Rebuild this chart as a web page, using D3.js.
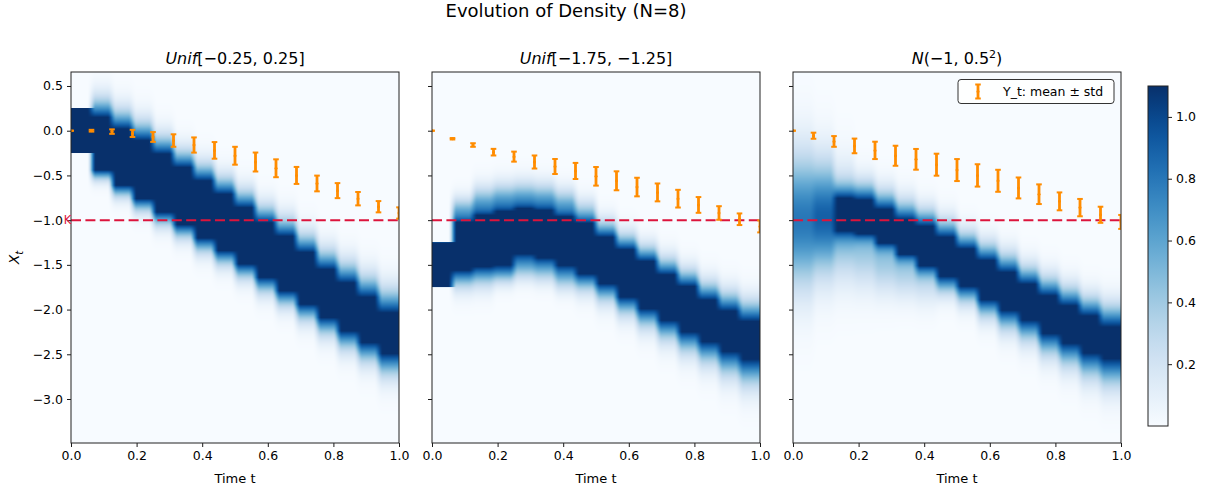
<!DOCTYPE html>
<html><head><meta charset="utf-8">
<script src="https://cdn.jsdelivr.net/npm/d3@7"></script>
<style>
body{margin:0;background:#fff;}
text{font-family:"DejaVu Sans",sans-serif;fill:#000;}
</style>
</head><body>
<svg id="chart" width="1211" height="489"></svg>
<script>
// ---------------- data ----------------
const suptitle = "Evolution of Density (N=8)";
const timePoints = [0, 0.0625, 0.125, 0.1875, 0.25, 0.3125, 0.375, 0.4375, 0.5, 0.5625, 0.625, 0.6875, 0.75, 0.8125, 0.875, 0.9375, 1];
const xTicks = [0, 0.2, 0.4, 0.6, 0.8, 1.0];
const yTicks = [0.5, 0, -0.5, -1, -1.5, -2, -2.5, -3];
const cbTicks = [0.2, 0.4, 0.6, 0.8, 1.0];
const K = -1;

// error bars: Y_t mean and std per time point
const meanA = [0, 0.0, -0.01, -0.03, -0.07, -0.11, -0.16, -0.22, -0.28, -0.35, -0.42, -0.50, -0.59, -0.67, -0.76, -0.85, -0.92];
const stdA  = [0, 0.01, 0.025, 0.04, 0.055, 0.07, 0.085, 0.093, 0.10, 0.106, 0.10, 0.095, 0.088, 0.084, 0.075, 0.063, 0.063];
const meanB = [0, -0.09, -0.16, -0.24, -0.29, -0.35, -0.40, -0.45, -0.51, -0.56, -0.63, -0.69, -0.76, -0.83, -0.92, -0.99, -1.07];
const stdB  = [0, 0.008, 0.02, 0.037, 0.056, 0.073, 0.084, 0.09, 0.104, 0.106, 0.104, 0.10, 0.099, 0.088, 0.076, 0.065, 0.067];
const meanC = [0, -0.056, -0.12, -0.17, -0.22, -0.28, -0.32, -0.38, -0.44, -0.50, -0.56, -0.64, -0.71, -0.79, -0.86, -0.94, -1.02];
const stdC  = [0, 0.034, 0.06, 0.082, 0.097, 0.112, 0.116, 0.123, 0.123, 0.125, 0.123, 0.117, 0.11, 0.10, 0.097, 0.09, 0.078];

// density columns (16 time bins): dense band top/bottom, edge softness, level, plus halos
const bandHiA = [0.25, 0.15, 0.02, -0.11, -0.26, -0.41, -0.56, -0.71, -0.86, -1.03, -1.18, -1.36, -1.55, -1.70, -1.86, -2.03];
const bandLoA = [-0.25, -0.44, -0.61, -0.76, -0.91, -1.05, -1.20, -1.34, -1.49, -1.64, -1.79, -1.94, -2.09, -2.24, -2.37, -2.50];
const softHiA = [0.002, 0.2, 0.2, 0.2, 0.19, 0.18, 0.18, 0.18, 0.18, 0.18, 0.19, 0.19, 0.2, 0.21, 0.22, 0.24];
const softLoA = [0.002, 0.1, 0.12, 0.13, 0.14, 0.14, 0.15, 0.15, 0.15, 0.16, 0.16, 0.17, 0.18, 0.19, 0.2, 0.22];
const levelA  = [2.0, 2.2, 2.2, 2.2, 2.2, 2.2, 2.2, 2.2, 2.2, 2.2, 2.2, 2.2, 2.2, 2.2, 2.2, 2.2];

const bandHiB = [-1.25, -1.07, -1.01, -0.97, -0.94, -0.96, -1.02, -1.09, -1.19, -1.33, -1.46, -1.61, -1.74, -1.89, -2.01, -2.12];
const bandLoB = [-1.75, -1.56, -1.52, -1.43, -1.34, -1.39, -1.48, -1.60, -1.71, -1.86, -1.99, -2.12, -2.25, -2.36, -2.47, -2.56];
const softHiB = [0.002, 0.07, 0.08, 0.08, 0.08, 0.08, 0.08, 0.1, 0.16, 0.16, 0.16, 0.17, 0.17, 0.18, 0.19, 0.2];
const softLoB = [0.002, 0.17, 0.18, 0.14, 0.12, 0.12, 0.14, 0.17, 0.18, 0.18, 0.19, 0.2, 0.21, 0.22, 0.24, 0.26];
const levelB  = [2.0, 2.2, 2.2, 2.2, 2.2, 2.2, 2.2, 2.2, 2.2, 2.2, 2.2, 2.2, 2.2, 2.2, 2.2, 2.2];
const haloUpC_B  = [0, -0.95, -0.88, -0.84, -0.82, -0.84, -0.89, -0.98, 0, 0, 0, 0, 0, 0, 0, 0];
const haloUpSd_B = [1, 0.13, 0.16, 0.16, 0.16, 0.16, 0.15, 0.14, 1, 1, 1, 1, 1, 1, 1, 1];
const haloUpPk_B = [0, 0.65, 0.7, 0.72, 0.72, 0.72, 0.66, 0.5, 0, 0, 0, 0, 0, 0, 0, 0];
const haloLoC_B  = [0, 0, 0, -1.54, -1.50, -1.54, -1.64, 0, 0, 0, 0, 0, 0, 0, 0, 0];
const haloLoSd_B = [1, 1, 1, 0.12, 0.12, 0.12, 0.12, 1, 1, 1, 1, 1, 1, 1, 1, 1];
const haloLoPk_B = [0, 0, 0, 0.45, 0.45, 0.38, 0.3, 0, 0, 0, 0, 0, 0, 0, 0, 0];

const bandHiC = [0, 0, -0.80, -0.80, -0.89, -1.0, -1.07, -1.19, -1.32, -1.45, -1.58, -1.71, -1.84, -1.95, -2.06, -2.17];
const bandLoC = [0, 0, -1.06, -1.11, -1.22, -1.35, -1.48, -1.63, -1.74, -1.89, -2.01, -2.12, -2.27, -2.38, -2.49, -2.56];
const softHiC = [1, 1, 0.16, 0.2, 0.2, 0.2, 0.18, 0.18, 0.17, 0.18, 0.19, 0.18, 0.19, 0.19, 0.19, 0.21];
const softLoC = [1, 1, 0.12, 0.1, 0.1, 0.1, 0.12, 0.17, 0.17, 0.18, 0.2, 0.21, 0.22, 0.23, 0.25, 0.27];
const levelC  = [0, 0, 1.7, 2.1, 2.2, 2.2, 2.2, 2.2, 2.2, 2.2, 2.2, 2.2, 2.2, 2.2, 2.2, 2.2];
const broadC_C  = [-1.0, -0.97, -1.05, -1.25, -1.42, -1.53, -1.64, 0, 0, 0, 0, 0, 0, 0, 0, 0];
const broadSd_C = [0.5, 0.42, 0.38, 0.32, 0.26, 0.22, 0.2, 1, 1, 1, 1, 1, 1, 1, 1, 1];
const broadPk_C = [0.8, 0.9, 0.6, 0.45, 0.42, 0.38, 0.28, 0, 0, 0, 0, 0, 0, 0, 0, 0];

const panels = [
  {title: ["Unif", "[−0.25, 0.25]", ""], mean: meanA, std: stdA,
   hi: bandHiA, lo: bandLoA, sHi: softHiA, sLo: softLoA, level: levelA,
   halos: []},
  {title: ["Unif", "[−1.75, −1.25]", ""], mean: meanB, std: stdB,
   hi: bandHiB, lo: bandLoB, sHi: softHiB, sLo: softLoB, level: levelB,
   halos: [[haloUpC_B, haloUpSd_B, haloUpPk_B], [haloLoC_B, haloLoSd_B, haloLoPk_B]]},
  {title: ["N", "(−1, 0.5", "2"], mean: meanC, std: stdC,
   hi: bandHiC, lo: bandLoC, sHi: softHiC, sLo: softLoC, level: levelC,
   halos: [[broadC_C, broadSd_C, broadPk_C]]}
];

// ---------------- layout ----------------
const panelX = [71, 432, 793], panelW = 328, plotTop = 72, plotBottom = 443;
const vmax = 1.1;
const svg = d3.select("#chart");
const y = d3.scaleLinear().domain([0.6565, -3.492]).range([plotTop, plotBottom]);
const color = d3.scaleSequential(d3.interpolateBlues).domain([0, vmax]).clamp(true);
const orange = "#ff8c00", crimson = "#dc143c";

function erf(x){const s=Math.sign(x);x=Math.abs(x);const t=1/(1+0.3275911*x);
  const yv=1-(((((1.061405429*t-1.453152027)*t)+1.421413741)*t-0.284496736)*t+0.254829592)*t*Math.exp(-x*x);return s*yv;}
const Phi = z => 0.5*(1+erf(z/Math.SQRT2));

function density(p, j, v){
  let d = 0;
  if (p.level[j] > 0) d += p.level[j]*Phi((v-p.lo[j])/p.sLo[j])*Phi((p.hi[j]-v)/p.sHi[j]);
  for (const h of p.halos){ if (h[2][j] > 0) d += h[2][j]*Math.exp(-0.5*((v-h[0][j])/h[1][j])**2); }
  return d;
}
const smooth = t => t<=0?0:t>=1?1:t*t*(3-2*t);

svg.append("text").attr("x", 566).attr("y", 17).attr("text-anchor","middle")
   .style("font-size","18px").text(suptitle);

panels.forEach((p, k) => {
  const x0 = panelX[k];
  const x = d3.scaleLinear().domain([0,1]).range([x0, x0+panelW]);
  const g = svg.append("g");
  // heatmap rendered at screen resolution, columns softly blended at their borders
  const nCol = p.hi.length, cw = panelW, ch = plotBottom-plotTop, colW = cw/nCol, blendW = 4.5;
  const cv = document.createElement("canvas"); cv.width = cw; cv.height = ch;
  const ctx = cv.getContext("2d"); const img = ctx.createImageData(cw, ch);
  for (let r=0;r<ch;r++){
    const v = y.invert(plotTop + r + 0.5);
    const colVals = d3.range(nCol).map(j => Math.min(density(p,j,v), vmax));
    for (let px=0; px<cw; px++){
      const c = (px+0.5)/colW, b = Math.round(c), d = (c-b)*colW;
      let val;
      if (b>0 && b<nCol && Math.abs(d) < blendW) {
        const w = smooth((d + blendW)/(2*blendW));
        val = colVals[b-1]*(1-w) + colVals[b]*w;
      } else val = colVals[Math.min(nCol-1, Math.floor(c))];
      const cc = d3.rgb(color(val));
      const idx = (r*cw+px)*4;
      img.data[idx]=cc.r; img.data[idx+1]=cc.g; img.data[idx+2]=cc.b; img.data[idx+3]=255;
    }
  }
  ctx.putImageData(img,0,0);
  g.append("image").attr("href", cv.toDataURL()).attr("x", x(0)).attr("y", plotTop)
   .attr("width", cw).attr("height", ch).attr("preserveAspectRatio","none");

  const clipId = "clip"+k;
  svg.append("clipPath").attr("id", clipId).append("rect")
     .attr("x", x0).attr("y", plotTop).attr("width", panelW).attr("height", plotBottom-plotTop);
  const cg = g.append("g").attr("clip-path", `url(#${clipId})`);
  // K line
  cg.append("line").attr("x1", x(0)).attr("x2", x(1)).attr("y1", y(K)).attr("y2", y(K))
    .attr("stroke", crimson).attr("stroke-width", 2).attr("stroke-dasharray", "10,4.4");
  // error bars
  const eb = cg.selectAll("g.eb").data(timePoints.map((t,i)=>({t, m:p.mean[i], s:p.std[i]}))).enter().append("g");
  eb.append("line").attr("x1", d=>x(d.t)).attr("x2", d=>x(d.t)).attr("y1", d=>y(d.m+d.s)).attr("y2", d=>y(d.m-d.s))
    .attr("stroke", orange).attr("stroke-width", 2.8);
  [1,-1].forEach(sg => eb.append("line").attr("x1", d=>x(d.t)-2.8).attr("x2", d=>x(d.t)+2.8)
    .attr("y1", d=>y(d.m+sg*d.s)).attr("y2", d=>y(d.m+sg*d.s)).attr("stroke", orange).attr("stroke-width", 2));
  eb.append("circle").attr("cx", d=>x(d.t)).attr("cy", d=>y(d.m)).attr("r", 1.5).attr("fill", orange);

  // axes
  const xa = g.append("g").attr("transform", `translate(0,${plotBottom})`)
    .call(d3.axisBottom(x).tickValues(xTicks).tickSize(4).tickPadding(4).tickFormat(d3.format(".1f")));
  const ya = g.append("g").attr("transform", `translate(${x0},0)`)
    .call(d3.axisLeft(y).tickValues(yTicks).tickSize(4).tickPadding(4).tickFormat(k===0?d3.format(".1f"):""));
  [xa, ya].forEach(a => { a.select(".domain").remove(); a.selectAll("text").style("font-size","12.5px").attr("fill","#000");
    a.selectAll("line").attr("stroke","#000").attr("stroke-width",0.9); });
  g.append("rect").attr("x", x0).attr("y", plotTop).attr("width", panelW).attr("height", plotBottom-plotTop)
   .attr("fill","none").attr("stroke","#222").attr("stroke-width",1);
  g.append("text").attr("x", x0+panelW/2).attr("y", 483).attr("text-anchor","middle")
   .style("font-size","13px").text("Time t");
  // title
  const tt = g.append("text").attr("x", x0+panelW/2).attr("y", 64).attr("text-anchor","middle").style("font-size","16px");
  tt.append("tspan").style("font-style","italic").text(p.title[0]);
  tt.append("tspan").text(p.title[1]);
  if (p.title[2]) { tt.append("tspan").attr("dy", -6.5).style("font-size","11px").text(p.title[2]);
    tt.append("tspan").attr("dy", 6.5).text(")"); }
  if (k===0){
    g.append("text").attr("x", 63.8).attr("y", y(K)).attr("dy","0.35em").attr("text-anchor","start")
     .style("font-size","11.5px").style("fill", crimson).text("K");
    const yl = g.append("text").attr("transform", `translate(19,${(plotTop+plotBottom)/2}) rotate(-90)`)
      .attr("text-anchor","middle").style("font-size","14px");
    yl.append("tspan").style("font-style","italic").text("X");
    yl.append("tspan").attr("dy", 3.5).style("font-size","10px").style("font-style","italic").text("t");
  }
  if (k===2){
    const lg = g.append("g");
    lg.append("rect").attr("x", 958).attr("y", 79.5).attr("width", 156).attr("height", 24).attr("rx", 3)
      .attr("fill","#fff").attr("fill-opacity",0.85).attr("stroke","#333").attr("stroke-width",1);
    lg.append("line").attr("x1",978).attr("x2",978).attr("y1",84.5).attr("y2",98.5).attr("stroke",orange).attr("stroke-width",2.8);
    [84.5,98.5].forEach(yy=>lg.append("line").attr("x1",975.2).attr("x2",980.8).attr("y1",yy).attr("y2",yy).attr("stroke",orange).attr("stroke-width",2));
    lg.append("circle").attr("cx",978).attr("cy",91.5).attr("r",1.5).attr("fill",orange);
    lg.append("text").attr("x", 1003).attr("y", 96).style("font-size","12.5px").text("Y_t: mean ± std");
  }
});

// colorbar
const cbX = 1148, cbW = 20, cbTop = 86, cbBot = 426;
const cbScale = d3.scaleLinear().domain([0, vmax]).range([cbBot, cbTop]);
const defs = svg.append("defs");
const grad = defs.append("linearGradient").attr("id","cbg").attr("x1",0).attr("y1",1).attr("x2",0).attr("y2",0);
d3.range(0, 1.0001, 0.05).forEach(t => grad.append("stop").attr("offset", t).attr("stop-color", d3.interpolateBlues(t)));
svg.append("rect").attr("x", cbX).attr("y", cbTop).attr("width", cbW).attr("height", cbBot-cbTop).attr("fill","url(#cbg)");
const ca = svg.append("g").attr("transform", `translate(${cbX+cbW},0)`)
  .call(d3.axisRight(cbScale).tickValues(cbTicks).tickSize(4).tickPadding(4).tickFormat(d3.format(".1f")));
ca.select(".domain").remove(); ca.selectAll("text").style("font-size","12.5px").attr("fill","#000");
ca.selectAll("line").attr("stroke","#000").attr("stroke-width",0.9);
svg.append("rect").attr("x", cbX).attr("y", cbTop).attr("width", cbW).attr("height", cbBot-cbTop)
  .attr("fill","none").attr("stroke","#222").attr("stroke-width",1);
</script>
</body></html>
